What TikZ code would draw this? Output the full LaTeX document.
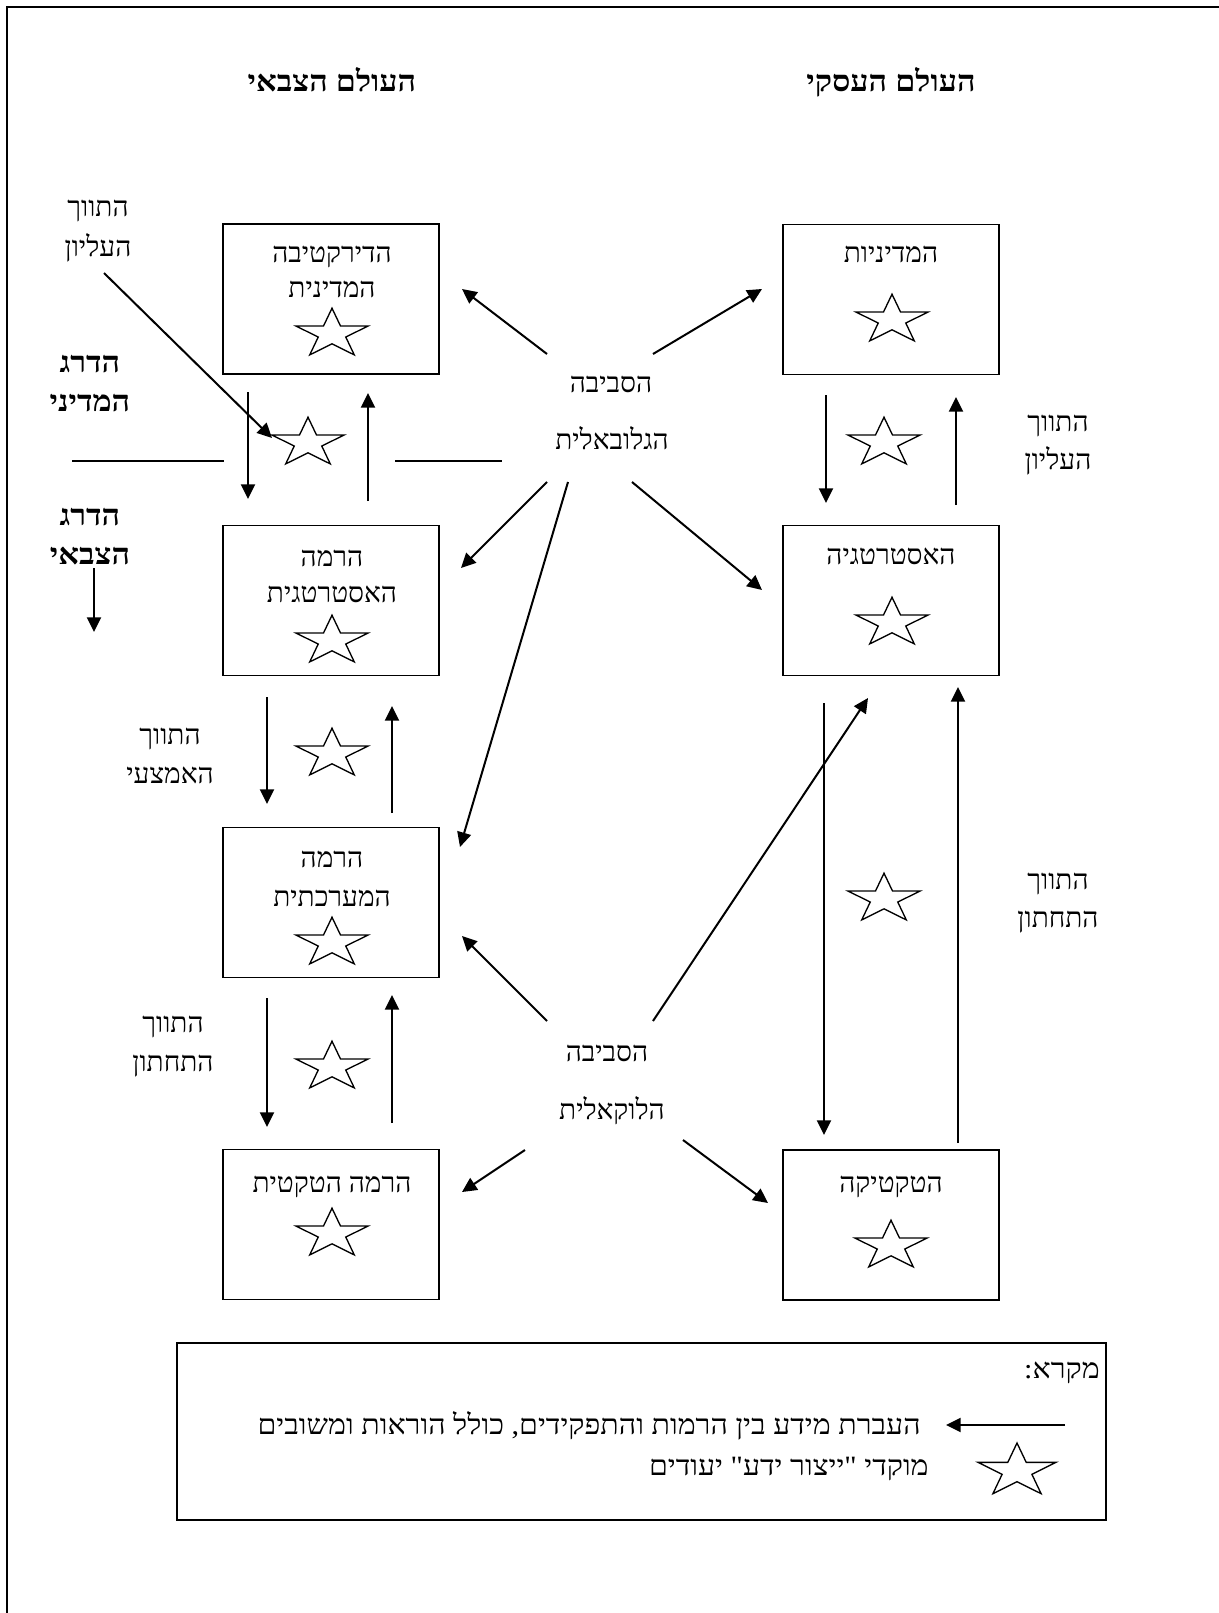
\documentclass[tikz,border=0pt]{standalone}
\usepackage{fontspec}
\usetikzlibrary{arrows.meta}
\setmainfont{Liberation Serif}
\newfontfamily\hebfont[Script=Hebrew]{Liberation Serif}
\newfontfamily\hebwide[Script=Hebrew,FakeStretch=1.08]{Liberation Serif}
\newfontfamily\hebbold[Script=Hebrew,FakeStretch=1.1]{Liberation Serif Bold}
\TeXXeTstate=1
\newcommand{\hebtxt}[1]{\beginR #1\endR}
\begin{document}
\begin{tikzpicture}[x=0.75pt,y=-0.75pt,
  box/.style={draw, line width=1.3pt, minimum width=162pt, minimum height=112.5pt, inner sep=0pt},
  lbox/.style={draw, line width=1.5pt, inner sep=0pt},
  arr/.style={-{Triangle[length=11pt,width=10.5pt]}, line width=1.5pt},
  plain/.style={line width=1.3pt},
  txt/.style={font=\hebfont\fontsize{21}{25}\selectfont, inner sep=0pt, anchor=base},
  wtxt/.style={font=\hebwide\fontsize{21}{25}\selectfont, inner sep=0pt, anchor=base east},
  btxt/.style={font=\hebbold\fontsize{22}{26}\selectfont, inner sep=0pt, anchor=base},
  pics/kstar/.style={code={\draw[line width=1pt, line join=miter]
    (-90:1)--(-54:0.382)--(-18:1)--(18:0.382)--(54:1)--(90:0.382)--(126:1)--(162:0.382)--(198:1)--(234:0.382)--cycle;}},
  st/.style={xscale=37.9, yscale=25.8},
  bigst/.style={xscale=41, yscale=28}
]
\useasboundingbox (0,0) rectangle (1218,1613);
% frame
\coordinate (fTL) at (7,7);
\coordinate (fTR) at (1230,7);
\coordinate (fBL) at (7,1630);
\draw[line width=1.5pt] (fBL) -- (fTL) -- (fTR);

% titles
\node[btxt] (tMil) at (332,91) {\hebtxt{העולם הצבאי}};
\node[btxt] (tBus) at (891,91) {\hebtxt{העולם העסקי}};

% boxes
\node[box] (bL1) at (331,299) {};
\node[box] (bL2) at (331,600.5) {};
\node[box] (bL3) at (331,902.5) {};
\node[box] (bL4) at (331,1224.5) {};
\node[box] (bR1) at (891,299.5) {};
\node[box] (bR2) at (891,600.5) {};
\node[box] (bR3) at (891,1225) {};

% box texts
\node[txt] (xL1a) at (332,262) {\hebtxt{הדירקטיבה}};
\node[txt] (xL1b) at (332,297) {\hebtxt{המדינית}};
\node[txt] (xL2a) at (332,566) {\hebtxt{הרמה}};
\node[txt] (xL2b) at (332,602) {\hebtxt{האסטרטגית}};
\node[txt] (xL3a) at (332,867) {\hebtxt{הרמה}};
\node[txt] (xL3b) at (332,906) {\hebtxt{המערכתית}};
\node[txt] (xL4) at (332,1192) {\hebtxt{הרמה הטקטית}};
\node[txt] (xR1) at (891,262) {\hebtxt{המדיניות}};
\node[txt] (xR2) at (891,564) {\hebtxt{האסטרטגיה}};
\node[txt] (xR3) at (891,1192) {\hebtxt{הטקטיקה}};

% side labels
\node[txt] (lTopA) at (98,216) {\hebtxt{התווך}};
\node[txt] (lTopB) at (98,256) {\hebtxt{העליון}};
\node[btxt] (lPolA) at (90,372) {\hebtxt{הדרג}};
\node[btxt] (lPolB) at (90,411) {\hebtxt{המדיני}};
\node[btxt] (lMilA) at (90,525) {\hebtxt{הדרג}};
\node[btxt] (lMilB) at (90,564) {\hebtxt{הצבאי}};
\node[txt] (lMidA) at (170,744) {\hebtxt{התווך}};
\node[txt] (lMidB) at (170,783) {\hebtxt{האמצעי}};
\node[txt] (lLowA) at (173,1032) {\hebtxt{התווך}};
\node[txt] (lLowB) at (173,1071) {\hebtxt{התחתון}};
\node[txt] (rTopA) at (1058,431) {\hebtxt{התווך}};
\node[txt] (rTopB) at (1058,469) {\hebtxt{העליון}};
\node[txt] (rLowA) at (1058,889) {\hebtxt{התווך}};
\node[txt] (rLowB) at (1058,927) {\hebtxt{התחתון}};

% environments
\node[txt] (gA) at (611,392) {\hebtxt{הסביבה}};
\node[txt] (gB) at (612,449) {\hebtxt{הגלובאלית}};
\node[txt] (lcA) at (607,1061) {\hebtxt{הסביבה}};
\node[txt] (lcB) at (612,1119) {\hebtxt{הלוקאלית}};

% stars
\pic[st] (sL1) at (332,334) {kstar};
\pic[st] (sL2) at (332,641) {kstar};
\pic[st] (sL3) at (332,943) {kstar};
\pic[st] (sL4) at (332,1234) {kstar};
\pic[st] (sR1) at (892,320) {kstar};
\pic[st] (sR2) at (892,623) {kstar};
\pic[st] (sR3) at (891,1246) {kstar};
\pic[st] (sM1) at (308,443) {kstar};
\pic[st] (sM2) at (332,754) {kstar};
\pic[st] (sM3) at (332,1067) {kstar};
\pic[st] (sM4) at (884,443) {kstar};
\pic[st] (sM5) at (884,899) {kstar};

% arrow end points
\coordinate (a1s) at (248,392);  \coordinate (a1e) at (248,499);
\coordinate (a2s) at (368,501);  \coordinate (a2e) at (368,393);
\coordinate (a3s) at (267,697);  \coordinate (a3e) at (267,804);
\coordinate (a4s) at (392,813);  \coordinate (a4e) at (392,706);
\coordinate (a5s) at (267,998);  \coordinate (a5e) at (267,1127);
\coordinate (a6s) at (392,1123); \coordinate (a6e) at (392,995);
\coordinate (a7s) at (826,395);  \coordinate (a7e) at (826,503);
\coordinate (a8s) at (956,505);  \coordinate (a8e) at (956,397);
\coordinate (a9s) at (824,703);  \coordinate (a9e) at (824,1135);
\coordinate (a10s) at (958,1143); \coordinate (a10e) at (958,687);
\coordinate (g1s) at (547,354); \coordinate (g1e) at (462,289);
\coordinate (g2s) at (653,354); \coordinate (g2e) at (762,289);
\coordinate (g3s) at (547,482); \coordinate (g3e) at (461,568);
\coordinate (g4s) at (632,482); \coordinate (g4e) at (762,590);
\coordinate (g5s) at (568,482); \coordinate (g5e) at (460,847);
\coordinate (l1s) at (547,1021); \coordinate (l1e) at (462,936);
\coordinate (l2s) at (653,1021); \coordinate (l2e) at (868,698);
\coordinate (l3s) at (525,1150); \coordinate (l3e) at (462,1192);
\coordinate (l4s) at (683,1140); \coordinate (l4e) at (768,1203);
\coordinate (t1s) at (104,273); \coordinate (t1e) at (272,438);
\coordinate (k1s) at (94,568); \coordinate (k1e) at (94,632);
\coordinate (h1s) at (72,461); \coordinate (h1e) at (224,461);
\coordinate (h2s) at (395,461); \coordinate (h2e) at (502,461);

\foreach \p in {a1,a2,a3,a4,a5,a6,a7,a8,a9,a10,g1,g2,g3,g4,g5,l1,l2,l3,l4,t1,k1}
  \draw[arr] (\p s) -- (\p e);
\draw[plain] (h1s) -- (h1e);
\draw[plain] (h2s) -- (h2e);

% legend
\node[lbox, minimum width=696.75pt, minimum height=132.75pt] (leg) at (641.5,1431.5) {};
\node[wtxt] (legT) at (1100,1378) {\hebtxt{מקרא:}};
\coordinate (legAs) at (1065,1425); \coordinate (legAe) at (946,1425);
\draw[arr] (legAs) -- (legAe);
\node[wtxt] (leg1) at (921,1434) {\hebtxt{העברת מידע בין הרמות והתפקידים, כולל הוראות ומשובים}};
\pic[bigst] (sLeg) at (1017,1471) {kstar};
\node[wtxt] (leg2) at (929,1475) {\hebtxt{מוקדי "ייצור ידע" יעודים}};
\end{tikzpicture}
\end{document}
